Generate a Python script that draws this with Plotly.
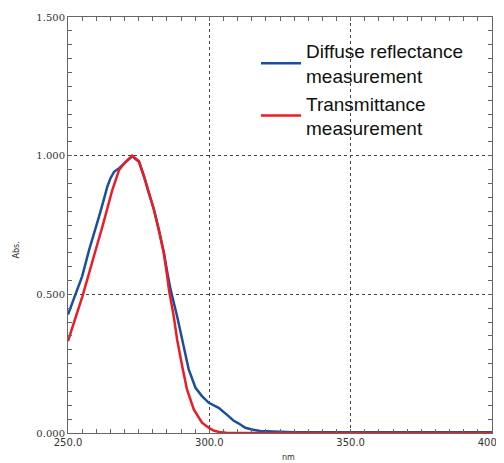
import plotly.graph_objects as go

# Wavelength (nm) and absorbance
wl_diffuse = [250, 251.5, 253.0, 255.0, 257.5, 259.0, 261.0, 262.5, 263.9, 265.0, 266.3, 268.1, 270.4, 272.7,
              275.1, 276.9, 278.6, 280.4, 282.1, 283.9, 285.2, 286.3, 288.6, 290.4, 292.7, 295.1,
              297.4, 299.8, 301.5, 303.3, 306.8, 308.5, 310.3, 312.7, 315.5, 318.0, 322.6,
              326.0, 330.0, 340.0, 360.0, 380.0, 400.0]
abs_diffuse = [0.427, 0.470, 0.505, 0.565, 0.661, 0.710, 0.781, 0.835, 0.888, 0.918, 0.942, 0.955, 0.978, 0.998,
               0.978, 0.925, 0.866, 0.806, 0.735, 0.651, 0.575, 0.517, 0.421, 0.337, 0.229, 0.163,
               0.133, 0.109, 0.100, 0.091, 0.061, 0.045, 0.035, 0.019, 0.012, 0.007, 0.005,
               0.003, 0.003, 0.003, 0.003, 0.003, 0.003]

wl_trans = [250, 251.5, 253.4, 255.1, 257.0, 258.7, 260.5, 262.2, 264.0, 265.7, 268.1, 270.4, 272.7,
            275.1, 276.9, 278.6, 280.4, 282.1, 283.9, 285.1, 285.7, 287.4, 288.6, 290.4, 292.1,
            294.5, 297.4, 299.8, 301.5, 303.3, 306.0, 310.0, 330.0, 360.0, 400.0]
abs_trans = [0.331, 0.380, 0.433, 0.493, 0.560, 0.625, 0.685, 0.745, 0.812, 0.877, 0.949, 0.978, 1.000,
             0.980, 0.924, 0.865, 0.805, 0.733, 0.649, 0.565, 0.517, 0.421, 0.337, 0.241, 0.157,
             0.085, 0.037, 0.019, 0.009, 0.004, 0.001, 0.0, 0.0, 0.0, 0.0]

names = ["Diffuse reflectance<br>measurement", "Transmittance<br>measurement"]
colors = ["#1a4f9f", "#ec1c24"]

fig = go.Figure()
fig.add_trace(go.Scatter(x=wl_diffuse, y=abs_diffuse, mode="lines", name=names[0],
                         legendgroup="a", line=dict(color=colors[0], width=2.5)))
fig.add_trace(go.Scatter(x=wl_trans, y=abs_trans, mode="lines", name=names[1],
                         legendgroup="b", line=dict(color=colors[1], width=2.5)))

axis_common = dict(showline=True, linecolor="#666", linewidth=1, mirror="ticks",
                   ticks="inside", ticklen=4, tickcolor="#666", showgrid=True,
                   gridcolor="#444", griddash="dot", gridwidth=1, zeroline=False,
                   automargin=False, ticklabeloverflow="allow")

fig.update_xaxes(range=[250, 400], dtick=50, tickformat=".1f",
                 tickfont=dict(family="DejaVu Sans", size=10, color="#333"),
                 minor=dict(dtick=5, ticks="inside", ticklen=4, tickcolor="#666", showgrid=False),
                 **axis_common)
fig.update_yaxes(range=[0, 1.5], dtick=0.5, tickformat=".3f",
                 tickfont=dict(family="DejaVu Serif", size=10, color="#333"),
                 minor=dict(dtick=0.05, ticks="inside", ticklen=4, tickcolor="#666", showgrid=False),
                 **axis_common)

fig.add_annotation(text="Abs.", x=(9 - 68) / 424, y=(433 - 250) / 416, xref="paper", yref="paper",
                   showarrow=False, textangle=-90,
                   font=dict(family="DejaVu Sans", size=8, color="#333"))
fig.add_annotation(text="nm", x=(288 - 68) / 424, y=-(457 - 433) / 416, xref="paper", yref="paper",
                   showarrow=False, yanchor="middle",
                   font=dict(family="DejaVu Sans", size=8, color="#333"))

fig.update_layout(
    width=496, height=455,
    margin=dict(l=60, r=12, t=9, b=30),
    paper_bgcolor="white", plot_bgcolor="white",
    legend=dict(x=0.4434, y=0.964, xanchor="left", yanchor="top",
                font=dict(family="Liberation Sans", size=19, color="#111"),
                bgcolor="rgba(0,0,0,0)", tracegroupgap=0, itemwidth=40),
)

fig.write_html("out.html")
